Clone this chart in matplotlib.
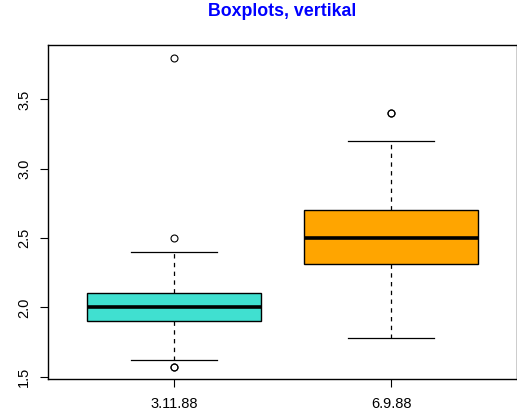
import matplotlib
matplotlib.use("Agg")
import matplotlib.pyplot as plt

plt.rcParams['font.family'] = ['Liberation Sans', 'DejaVu Sans']

# five-number summaries per date, plus outliers
labels = ["3.11.88", "6.9.88"]
whisker_lo = [1.62, 1.78]
q1 = [1.90, 2.31]
median = [2.00, 2.50]
q3 = [2.10, 2.70]
whisker_hi = [2.40, 3.20]
outliers = [[1.57, 1.57, 2.50, 3.80], [3.40, 3.40]]
colors = ["#40E0D0", "#FFA500"]

stats = []
for i, lab in enumerate(labels):
    stats.append(dict(label=lab, whislo=whisker_lo[i], q1=q1[i], med=median[i],
                      q3=q3[i], whishi=whisker_hi[i], fliers=outliers[i]))

fig = plt.figure(figsize=(5.17, 4.16), dpi=100)
ax = fig.add_axes([48 / 517, 37 / 416, 469 / 517, 334 / 416])

bp = ax.bxp(stats, positions=[1, 2], widths=0.8, patch_artist=True,
            showfliers=True,
            boxprops=dict(edgecolor="black", linewidth=1.0),
            medianprops=dict(color="black", linewidth=2.6),
            whiskerprops=dict(color="black", linewidth=0.9, linestyle=(0, (3.5, 3.5))),
            capprops=dict(color="black", linewidth=0.9),
            flierprops=dict(marker="o", markersize=5, markerfacecolor="none",
                            markeredgecolor="black", markeredgewidth=0.8))
for patch, c in zip(bp["boxes"], colors):
    patch.set_facecolor(c)
for cap in bp["caps"]:
    x0, x1 = cap.get_xdata()
    mid = (x0 + x1) / 2
    cap.set_xdata([mid - 0.2, mid + 0.2])

ax.set_xlim(0.42, 2.58)
ax.set_ylim(1.483, 3.893)
ax.set_yticks([1.5, 2.0, 2.5, 3.0, 3.5])
ax.set_yticklabels(["1.5", "2.0", "2.5", "3.0", "3.5"], rotation=90, va="center")
ax.tick_params(axis="both", length=6, width=0.8, labelsize=10.5, colors="black")
ax.tick_params(axis="y", pad=6)
ax.tick_params(axis="x", pad=7)
for s in ax.spines.values():
    s.set_linewidth(1.0)

fig.text(282 / 517, 1 - 12 / 416, "Boxplots, vertikal", color="#0000FF",
         fontsize=12.8, fontweight="bold", ha="center", va="center")

fig.savefig("out.png", dpi=100)
